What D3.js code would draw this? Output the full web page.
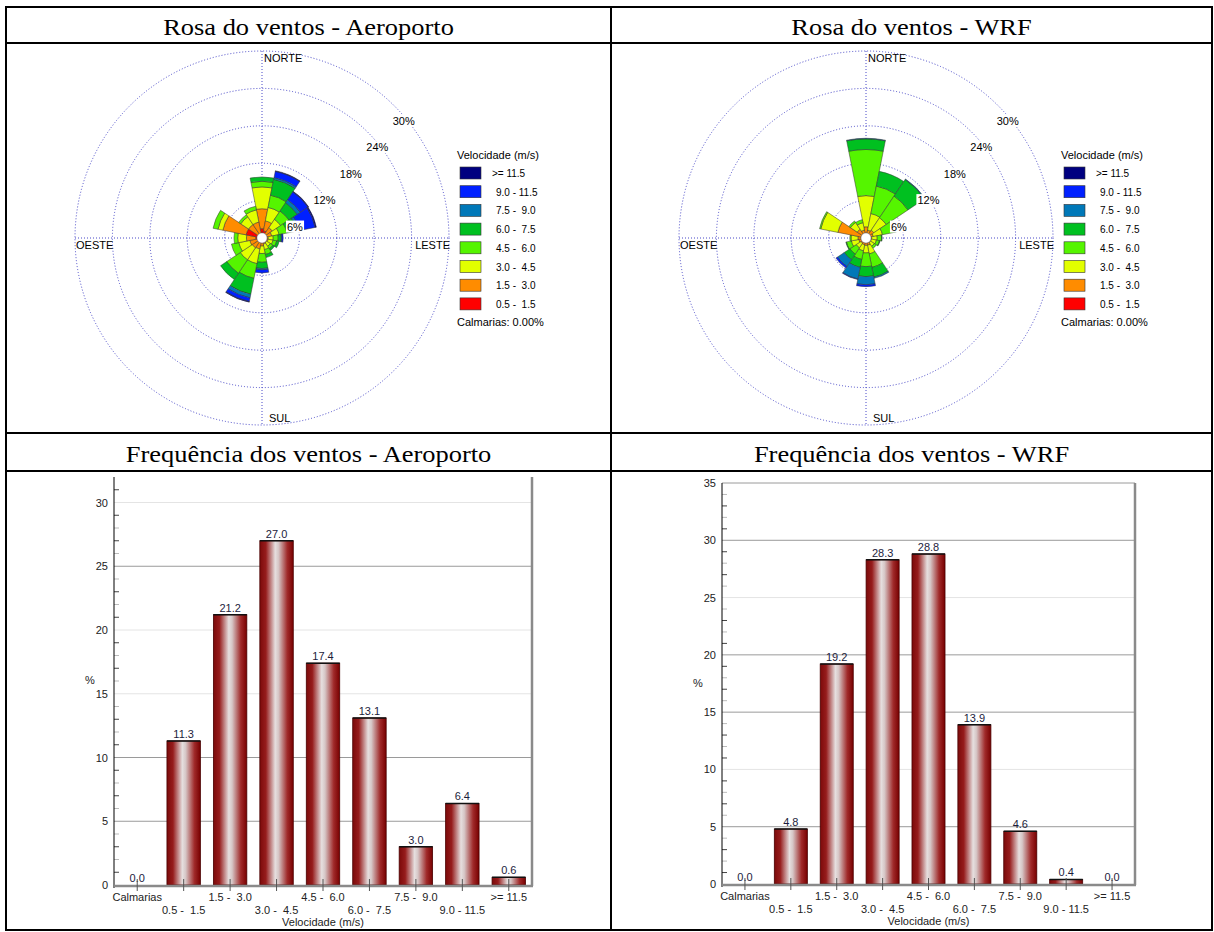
<!DOCTYPE html>
<html>
<head>
<meta charset="utf-8">
<script src="https://cdn.jsdelivr.net/npm/d3@7"></script>
<style>
  body { margin: 0; background: #fff; }
  svg { display: block; }
</style>
</head>
<body>
<svg id="chart" width="1214" height="932"></svg>
<script>
// Direções (16 setores) e faixas de velocidade
const direcoes = ["N","NNE","NE","ENE","E","ESE","SE","SSE","S","SSW","SW","WSW","W","WNW","NW","NNW"];
const faixas = ["0.5 -  1.5","1.5 -  3.0","3.0 -  4.5","4.5 -  6.0","6.0 -  7.5","7.5 -  9.0","9.0 - 11.5",">= 11.5"];
const coresFaixas = ["#ff0000","#ff8c00","#e2ff00","#55f500","#00c020","#0078b8","#0020ff","#000080"];
const aneis = [6, 12, 18, 24, 30];

// % por direção, da faixa mais fraca para a mais forte
const roseAeroporto = [
  [1.5, 3.2, 3.5, 0.9, 0.7, 0.0, 0.0, 0.0],
  [1.2, 1.6, 2.2, 2.0, 2.6, 0.3, 1.0, 0.1],
  [0.8, 1.2, 1.6, 1.6, 1.6, 0.6, 1.5, 0.1],
  [0.6, 1.0, 1.2, 1.3, 1.6, 0.4, 2.6, 0.2],
  [0.4, 0.6, 0.8, 0.8, 0.5, 0.1, 0.2, 0.0],
  [0.4, 0.6, 0.8, 0.6, 0.4, 0.0, 0.0, 0.0],
  [0.4, 0.5, 0.7, 0.5, 0.3, 0.0, 0.0, 0.0],
  [0.4, 0.6, 0.9, 0.8, 0.5, 0.0, 0.0, 0.0],
  [0.5, 0.8, 1.2, 1.4, 1.0, 0.2, 0.5, 0.0],
  [0.6, 1.2, 2.4, 2.4, 2.6, 0.6, 0.6, 0.1],
  [0.6, 1.3, 2.3, 2.6, 1.2, 0.0, 0.0, 0.0],
  [0.7, 1.3, 1.8, 1.2, 0.0, 0.0, 0.0, 0.0],
  [1.0, 1.5, 1.4, 0.6, 0.0, 0.0, 0.0, 0.0],
  [2.6, 3.8, 0.8, 0.8, 0.0, 0.0, 0.0, 0.0],
  [0.8, 1.8, 1.5, 0.4, 0.0, 0.0, 0.0, 0.0],
  [0.8, 1.8, 2.0, 0.6, 0.0, 0.0, 0.0, 0.0]
];
const roseWRF = [
  [0.4, 1.4, 5.0, 7.4, 1.7, 0.1, 0.0, 0.0],
  [0.3, 1.0, 2.7, 4.5, 2.4, 0.0, 0.0, 0.0],
  [0.3, 1.2, 2.4, 4.2, 3.2, 0.1, 0.0, 0.0],
  [0.3, 0.9, 1.5, 2.0, 0.3, 0.0, 0.0, 0.0],
  [0.2, 0.7, 0.9, 0.7, 0.1, 0.0, 0.0, 0.0],
  [0.2, 0.7, 0.8, 0.5, 0.1, 0.0, 0.0, 0.0],
  [0.2, 0.7, 0.7, 0.4, 0.0, 0.0, 0.0, 0.0],
  [0.3, 0.9, 1.4, 2.2, 1.6, 0.2, 0.0, 0.0],
  [0.3, 0.9, 1.2, 2.2, 1.6, 1.3, 0.3, 0.0],
  [0.3, 0.8, 1.0, 1.4, 1.3, 1.9, 0.1, 0.0],
  [0.3, 0.7, 0.9, 1.2, 1.1, 1.3, 0.3, 0.0],
  [0.3, 0.9, 1.2, 0.8, 0.1, 0.0, 0.0, 0.0],
  [0.3, 1.0, 1.1, 0.2, 0.0, 0.0, 0.0, 0.0],
  [0.4, 4.2, 2.8, 0.2, 0.0, 0.0, 0.0, 0.0],
  [0.3, 1.4, 1.3, 0.3, 0.0, 0.0, 0.0, 0.0],
  [0.3, 1.0, 1.2, 0.5, 0.0, 0.0, 0.0, 0.0]
];

// Frequência por faixa de velocidade
const categoriasFreq = ["Calmarias","0.5 -  1.5","1.5 -  3.0","3.0 -  4.5","4.5 -  6.0","6.0 -  7.5","7.5 -  9.0","9.0 - 11.5",">= 11.5"];
const freqAeroporto = [0.0, 11.3, 21.2, 27.0, 17.4, 13.1, 3.0, 6.4, 0.6];
const freqWRF = [0.0, 4.8, 19.2, 28.3, 28.8, 13.9, 4.6, 0.4, 0.0];

const titulos = ["Rosa do ventos - Aeroporto", "Rosa do ventos - WRF",
                 "Frequência dos ventos - Aeroporto", "Frequência dos ventos - WRF"];

const svg = d3.select("#chart");
const fonte = "Liberation Sans, Arial, sans-serif";

// Gradiente das barras
const defs = svg.append("defs");
const grad = defs.append("linearGradient").attr("id", "gradBarra")
  .attr("x1", "0%").attr("x2", "100%").attr("y1", "0%").attr("y2", "0%");
[[0, "#7c0a0a"], [0.18, "#961c1c"], [0.46, "#e6dfdf"], [0.56, "#d6c6c6"], [0.82, "#a02a2a"], [1, "#780000"]]
  .forEach(s => grad.append("stop").attr("offset", s[0]).attr("stop-color", s[1]));

// Tabela
function drawTabela() {
  const t = svg.append("g");
  t.append("rect").attr("x", 6).attr("y", 7).attr("width", 1206).attr("height", 923)
    .attr("fill", "none").attr("stroke", "#000").attr("stroke-width", 2);
  t.append("line").attr("x1", 611).attr("x2", 611).attr("y1", 7).attr("y2", 930)
    .attr("stroke", "#000").attr("stroke-width", 2);
  [43, 433, 471].forEach(y => {
    t.append("line").attr("x1", 6).attr("x2", 1212).attr("y1", y).attr("y2", y)
      .attr("stroke", "#000").attr("stroke-width", 2);
  });
  const cx = [308.5, 911.5];
  titulos.forEach((txt, i) => {
    t.append("text")
      .attr("transform", `translate(${cx[i % 2]},${i < 2 ? 35 : 462}) scale(1.15,1)`)
      .attr("text-anchor", "middle")
      .attr("font-family", "Liberation Serif, Times New Roman, serif")
      .attr("font-size", 23).text(txt);
  });
}

// Rosa dos ventos
function drawRose(cx, cy, dados) {
  const g = svg.append("g").attr("transform", `translate(${cx},${cy})`);
  const r = d3.scaleLinear().domain([0, 30]).range([0, 187]);
  const raioMax = r(30);

  aneis.forEach(a => {
    g.append("circle").attr("r", r(a)).attr("fill", "none")
      .attr("stroke", "#4848c8").attr("stroke-width", 1).attr("stroke-dasharray", "1,2");
  });
  g.append("line").attr("x1", -raioMax).attr("x2", raioMax).attr("y1", 0).attr("y2", 0)
    .attr("stroke", "#4848c8").attr("stroke-dasharray", "1,2");
  g.append("line").attr("x1", 0).attr("x2", 0).attr("y1", -raioMax).attr("y2", raioMax)
    .attr("stroke", "#4848c8").attr("stroke-dasharray", "1,2");

  const passo = 2 * Math.PI / direcoes.length;
  dados.forEach((valores, i) => {
    let acum = 0;
    valores.forEach((v, j) => {
      if (v <= 0) return;
      const arco = d3.arc()
        .innerRadius(Math.max(5, r(acum)))
        .outerRadius(r(acum + v))
        .startAngle(i * passo - passo / 2)
        .endAngle(i * passo + passo / 2);
      g.append("path").attr("d", arco()).attr("fill", coresFaixas[j])
        .attr("stroke", "#333").attr("stroke-width", 0.5);
      acum += v;
    });
  });
  g.append("circle").attr("r", 5).attr("fill", "#fff").attr("stroke", "#999").attr("stroke-width", 0.5);

  // Rótulos dos anéis
  aneis.forEach(a => {
    const px = r(a) * Math.SQRT1_2, py = -r(a) * Math.SQRT1_2;
    const txt = g.append("text").attr("x", px - 1.5).attr("y", py + 19)
      .attr("font-family", fonte).attr("font-size", 11).text(a + "%");
    const bb = txt.node().getBBox();
    g.insert("rect", () => txt.node())
      .attr("x", bb.x - 1).attr("y", bb.y).attr("width", bb.width + 2).attr("height", bb.height)
      .attr("fill", "#fff");
  });

  // Pontos cardeais
  const card = g.append("g").attr("font-family", fonte).attr("font-size", 11);
  card.append("text").attr("x", 2).attr("y", -raioMax + 11).text("NORTE");
  card.append("text").attr("x", 7).attr("y", raioMax - 3).text("SUL");
  card.append("text").attr("x", -raioMax + 1).attr("y", 11).text("OESTE");
  card.append("text").attr("x", raioMax + 1).attr("y", 11).attr("text-anchor", "end").text("LESTE");

  // Legenda
  const leg = g.append("g").attr("transform", "translate(195,-79)").attr("font-family", fonte);
  leg.append("text").attr("x", 0).attr("y", 0).attr("font-size", 11).text("Velocidade (m/s)");
  const ordem = faixas.map((f, j) => j).reverse();
  ordem.forEach((j, k) => {
    leg.append("rect").attr("x", 3).attr("y", 8 + k * 18.7).attr("width", 21).attr("height", 12)
      .attr("fill", coresFaixas[j]).attr("stroke", "#333").attr("stroke-width", 0.6);
    leg.append("text").attr("x", j === 7 ? 35 : 39).attr("y", 18 + k * 18.7)
      .attr("font-size", 10).style("white-space", "pre").text(faixas[j]);
  });
  leg.append("text").attr("x", 0).attr("y", 167).attr("font-size", 11).text("Calmarias: 0.00%");
}

// Histograma de frequência
function drawFreq(valores, cfg) {
  const g = svg.append("g").attr("font-family", fonte);
  const y = d3.scaleLinear().domain([0, cfg.yMax]).range([cfg.yBase, cfg.yTop]);
  const x = d3.scaleBand().domain(categoriasFreq).range([cfg.x0, cfg.x1])
    .paddingInner(0.28).paddingOuter(0.14);

  // Grade
  d3.range(5, cfg.yMax + 0.01, 5).forEach(v => {
    g.append("line").attr("x1", cfg.x0).attr("x2", cfg.x1).attr("y1", y(v)).attr("y2", y(v))
      .attr("stroke", cfg.fortes.includes(v) ? "#9a9a9a" : "#e4e4e4").attr("stroke-width", 1);
  });
  // Marcas menores
  d3.range(1, cfg.yMax, 1).forEach(v => {
    if (v % 5 === 0) return;
    g.append("line").attr("x1", cfg.x0).attr("x2", cfg.x0 + 5).attr("y1", y(v)).attr("y2", y(v))
      .attr("stroke", v % 2 ? "#444" : "#bbb").attr("stroke-width", 1);
  });
  d3.range(0, cfg.yMax + 0.01, 5).forEach(v => {
    g.append("text").attr("x", cfg.x0 - 6).attr("y", y(v) + 4).attr("text-anchor", "end")
      .attr("font-size", 11).attr("fill", "#222").text(v);
  });
  g.append("text").attr("x", cfg.x0 - 29).attr("y", (cfg.yTop + cfg.yBase) / 2 + 3)
    .attr("font-size", 11).attr("fill", "#222").text("%");

  // Barras
  valores.forEach((v, i) => {
    const c = categoriasFreq[i];
    if (v > 0) {
      g.append("rect").attr("x", x(c)).attr("y", y(v)).attr("width", x.bandwidth())
        .attr("height", cfg.yBase - y(v)).attr("fill", "url(#gradBarra)")
        .attr("stroke", "#4a0000").attr("stroke-width", 0.8);
      g.append("line").attr("x1", x(c)).attr("x2", x(c) + x.bandwidth())
        .attr("y1", y(v)).attr("y2", y(v)).attr("stroke", "#111").attr("stroke-width", 1.5);
    }
    g.append("text").attr("x", x(c) + x.bandwidth() / 2).attr("y", y(v) - 3)
      .attr("text-anchor", "middle").attr("font-size", 11).attr("fill", "#1c1c3c")
      .text(v.toFixed(1));
  });

  // Eixos e moldura
  g.append("line").attr("x1", cfg.x0).attr("x2", cfg.x0).attr("y1", cfg.yTop).attr("y2", cfg.yBase + 3)
    .attr("stroke", "#000").attr("stroke-width", 1);
  g.append("line").attr("x1", cfg.x1).attr("x2", cfg.x1).attr("y1", cfg.yTop).attr("y2", cfg.yBase + 1)
    .attr("stroke", "#8a8a8a").attr("stroke-width", 2.5);
  g.append("line").attr("x1", cfg.x0).attr("x2", cfg.x1 + 1).attr("y1", cfg.yBase + 1).attr("y2", cfg.yBase + 1)
    .attr("stroke", "#8a8a8a").attr("stroke-width", 2.5);

  categoriasFreq.forEach((c, i) => {
    const cx = x(c) + x.bandwidth() / 2;
    g.append("line").attr("x1", cx).attr("x2", cx).attr("y1", cfg.yBase - 6).attr("y2", cfg.yBase + 6)
      .attr("stroke", "#555").attr("stroke-width", 1);
    g.append("text").attr("x", cx).attr("y", cfg.yBase + (i % 2 ? 29 : 16))
      .attr("text-anchor", "middle").attr("font-size", 11).attr("fill", "#222")
      .style("white-space", "pre").text(c);
  });
  g.append("text").attr("x", (cfg.x0 + cfg.x1) / 2).attr("y", cfg.yBase + 41)
    .attr("text-anchor", "middle").attr("font-size", 11).attr("fill", "#222").text("Velocidade (m/s)");
}

drawTabela();
drawRose(262, 238, roseAeroporto);
drawRose(866, 238, roseWRF);
drawFreq(freqAeroporto, { x0: 114, x1: 532, yTop: 477, yBase: 885, yMax: 32, fortes: [5, 10, 25] });
drawFreq(freqWRF, { x0: 722, x1: 1135, yTop: 483, yBase: 884, yMax: 35, fortes: [5, 15, 20, 30, 35] });
</script>
</body>
</html>
